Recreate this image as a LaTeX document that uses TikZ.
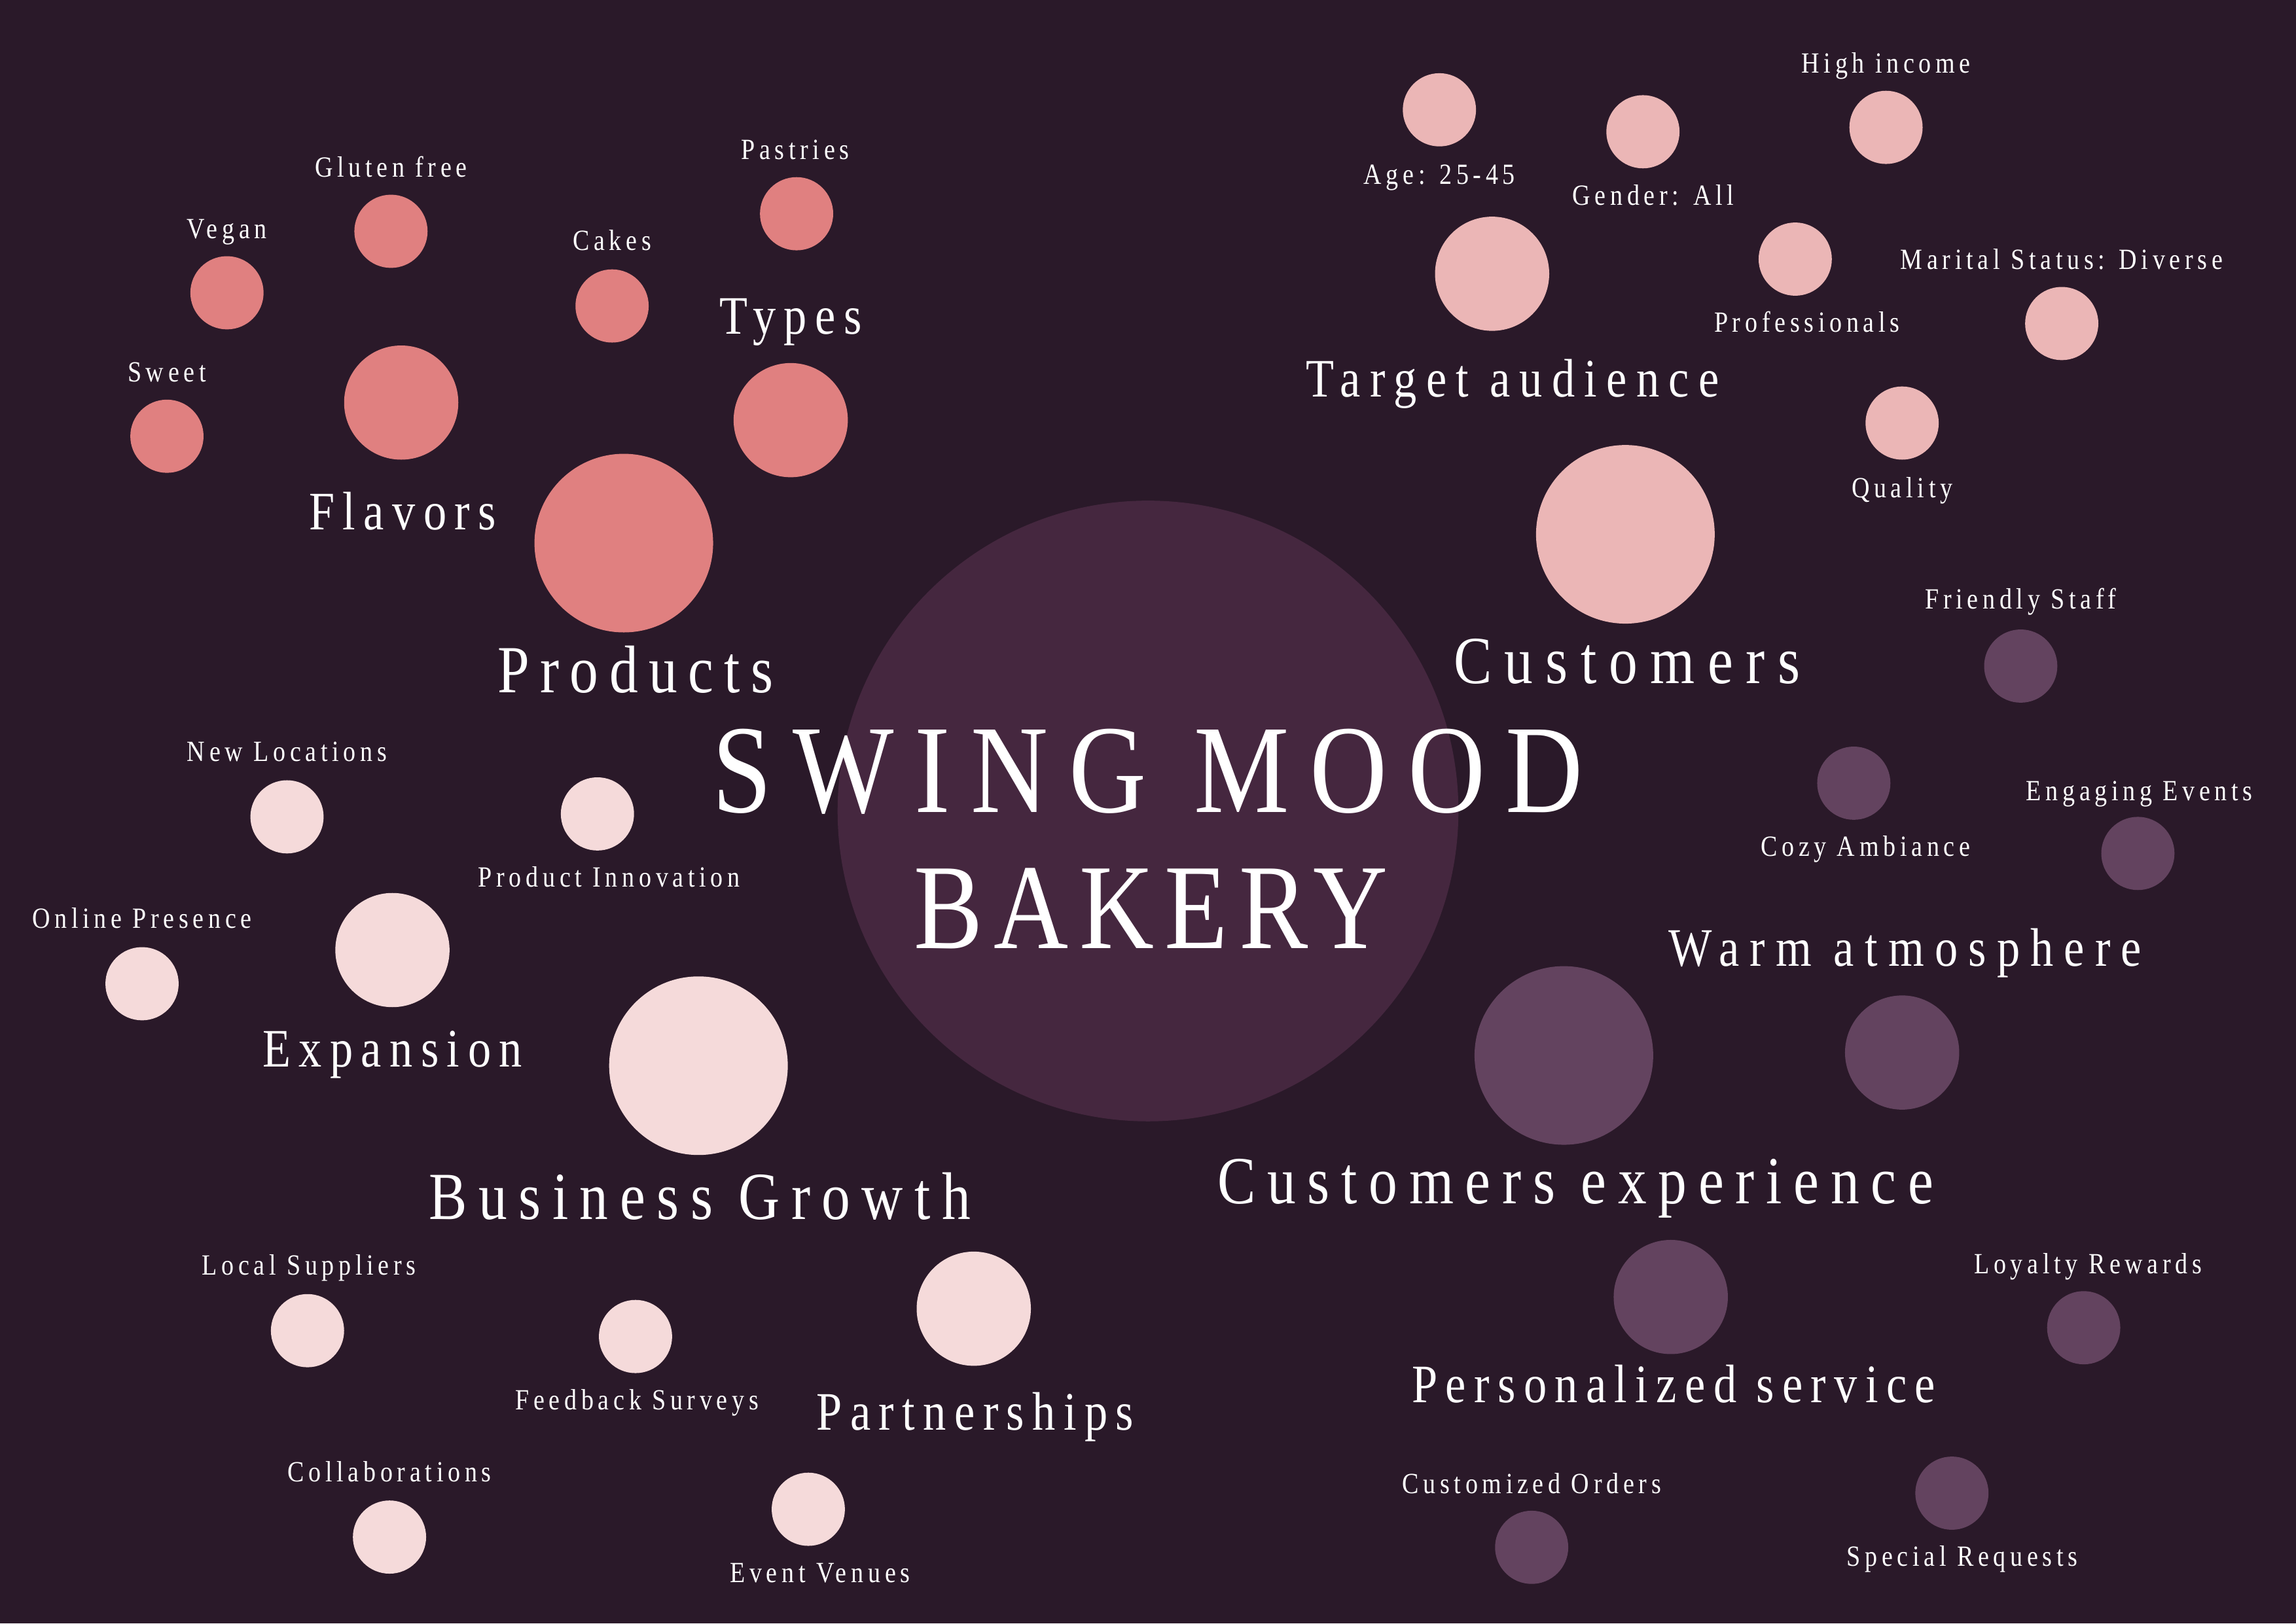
\documentclass[tikz,border=0pt]{standalone}
\usepackage{fontspec}
\setmainfont{Liberation Serif}[FakeStretch=0.85, LetterSpace=15]
\definecolor{bgc}{HTML}{2A1929}
\definecolor{centerc}{HTML}{45273F}
\definecolor{prodc}{HTML}{E08080}
\definecolor{custc}{HTML}{EBB6B6}
\definecolor{growc}{HTML}{F5DADA}
\definecolor{expc}{HTML}{63435F}
\tikzset{
  dot/.style={circle, inner sep=0pt, minimum size=#1},
  big/.style={dot=122pt},
  mid/.style={dot=78pt},
  sml/.style={dot=50pt},
  lbl/.style={text=white, anchor=base, inner sep=0pt},
  title/.style={lbl, font=\fontsize{83}{90}\selectfont},
  lone/.style={lbl, font=\fontsize{46}{50}\selectfont},
  ltwo/.style={lbl, font=\fontsize{37}{40}\selectfont},
  lthree/.style={lbl, font=\fontsize{20}{22}\selectfont},
  ls/.style={font=\addfontfeature{LetterSpace=#1}},
}
\begin{document}
\begin{tikzpicture}[x=1pt, y=-1pt]
\fill[bgc] (0,0) rectangle (1568,1109);
\useasboundingbox (0,0) rectangle (1568,1109);
% center
\node[dot=424pt, fill=centerc] (center) at (784,554) {};
\node[lbl] (t1) at (784,555) {\fontsize{86}{90}\selectfont\addfontfeature{LetterSpace=16.5}SWING MOOD};
\node[lbl] (t2) at (786,648) {\fontsize{83}{90}\selectfont\addfontfeature{LetterSpace=9}BAKERY};
% Products
\node[big, fill=prodc] (products) at (426,371) {};
\node[mid, fill=prodc] (flavors) at (274,275) {};
\node[mid, fill=prodc] (types) at (540,287) {};
\node[sml, fill=prodc] (vegan) at (155,200) {};
\node[sml, fill=prodc] (gluten) at (267,158) {};
\node[sml, fill=prodc] (sweet) at (114,298) {};
\node[sml, fill=prodc] (cakes) at (418,209) {};
\node[sml, fill=prodc] (pastries) at (544,146) {};
\node[lone] (products-l) at (434,473) {\addfontfeature{LetterSpace=16}Products};
\node[ltwo] (flavors-l) at (275,362) {Flavors};
\node[ltwo] (types-l) at (540,228) {Types};
\node[lthree] (vegan-l) at (155,163) {Vegan};
\node[lthree] (gluten-l) at (267,121) {Gluten free};
\node[lthree] (sweet-l) at (114,261) {Sweet};
\node[lthree] (cakes-l) at (418,171) {Cakes};
\node[lthree] (pastries-l) at (543,109) {Pastries};
% Customers
\node[big, fill=custc] (customers) at (1110,365) {};
\node[mid, fill=custc] (target) at (1019,187) {};
\node[sml, fill=custc] (age) at (983,75) {};
\node[sml, fill=custc] (gender) at (1122,90) {};
\node[sml, fill=custc] (income) at (1288,87) {};
\node[sml, fill=custc] (prof) at (1226,177) {};
\node[sml, fill=custc] (marital) at (1408,221) {};
\node[sml, fill=custc] (quality) at (1299,289) {};
\node[lone] (customers-l) at (1111,467) {\addfontfeature{LetterSpace=18.8}Customers};
\node[ltwo] (target-l) at (1033,271) {\addfontfeature{LetterSpace=17.3}Target audience};
\node[lthree] (age-l) at (983,126) {Age: 25-45};
\node[lthree] (gender-l) at (1129,140) {Gender: All};
\node[lthree] (income-l) at (1288,50) {High income};
\node[lthree] (prof-l) at (1234,227) {Professionals};
\node[lthree] (marital-l) at (1408,184) {Marital Status: Diverse};
\node[lthree] (quality-l) at (1299,340) {Quality};
% Customers experience
\node[big, fill=expc] (exp) at (1068,721) {};
\node[mid, fill=expc] (warm) at (1299,719) {};
\node[mid, fill=expc] (pers) at (1141,886) {};
\node[sml, fill=expc] (staff) at (1380,455) {};
\node[sml, fill=expc] (cozy) at (1266,535) {};
\node[sml, fill=expc] (events) at (1460,583) {};
\node[sml, fill=expc] (loyalty) at (1423,907) {};
\node[sml, fill=expc] (special) at (1333,1020) {};
\node[sml, fill=expc] (custom) at (1046,1057) {};
\node[lone] (exp-l) at (1076,822) {\addfontfeature{LetterSpace=17.2}Customers experience};
\node[ltwo] (warm-l) at (1301,660) {\addfontfeature{LetterSpace=19.6}Warm atmosphere};
\node[ltwo] (pers-l) at (1143,958) {Personalized service};
\node[lthree] (staff-l) at (1380,416) {Friendly Staff};
\node[lthree] (cozy-l) at (1274,585) {Cozy Ambiance};
\node[lthree] (events-l) at (1461,547) {Engaging Events};
\node[lthree] (loyalty-l) at (1426,870) {Loyalty Rewards};
\node[lthree] (special-l) at (1340,1070) {Special Requests};
\node[lthree] (custom-l) at (1046,1020) {Customized Orders};
% Business Growth
\node[big, fill=growc] (growth) at (477,728) {};
\node[mid, fill=growc] (expansion) at (268,649) {};
\node[mid, fill=growc] (partner) at (665,894) {};
\node[sml, fill=growc] (newloc) at (196,558) {};
\node[sml, fill=growc] (innov) at (408,556) {};
\node[sml, fill=growc] (online) at (97,672) {};
\node[sml, fill=growc] (local) at (210,909) {};
\node[sml, fill=growc] (feedback) at (434,913) {};
\node[sml, fill=growc] (collab) at (266,1050) {};
\node[sml, fill=growc] (venues) at (552,1031) {};
\node[lone] (growth-l) at (478,833) {\addfontfeature{LetterSpace=17}Business Growth};
\node[ltwo] (expansion-l) at (268,729) {Expansion};
\node[ltwo] (partner-l) at (666,977) {Partnerships};
\node[lthree] (newloc-l) at (196,520) {New Locations};
\node[lthree] (innov-l) at (416,606) {Product Innovation};
\node[lthree] (online-l) at (97,634) {Online Presence};
\node[lthree] (local-l) at (211,871) {Local Suppliers};
\node[lthree] (feedback-l) at (435,963) {Feedback Surveys};
\node[lthree] (collab-l) at (266,1012) {Collaborations};
\node[lthree] (venues-l) at (560,1081) {Event Venues};
\end{tikzpicture}
\end{document}
